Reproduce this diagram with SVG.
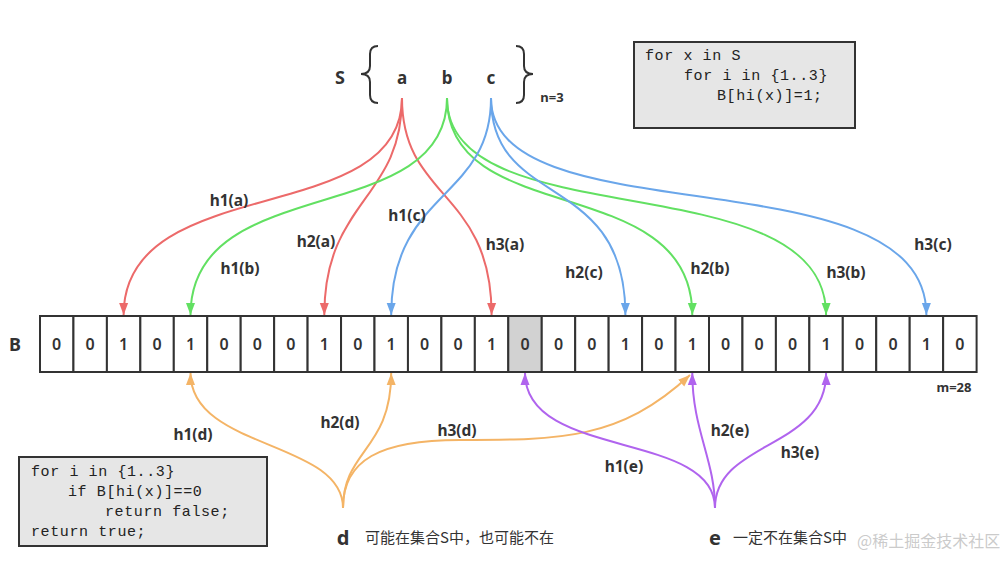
<svg xmlns="http://www.w3.org/2000/svg" width="1005" height="568" viewBox="0 0 1005 568">
<defs>
<style>
.lbl{font-family:"Noto Sans","Liberation Sans",sans-serif;font-weight:bold;font-size:15.5px;fill:#333;text-anchor:middle}
.big{font-family:"Noto Sans","Liberation Sans",sans-serif;font-weight:bold;font-size:18px;fill:#333;text-anchor:middle}
.code{font-family:"Liberation Mono",monospace;font-size:15px;letter-spacing:0.6px;fill:#222}
.box{fill:#e6e6e6;stroke:#333;stroke-width:2}
.cell{fill:#fff;stroke:#333;stroke-width:2}
.num{font-family:"Noto Sans","Liberation Sans",sans-serif;font-weight:600;font-size:16px;fill:#333;text-anchor:middle}
.cn{font-family:"Noto Sans CJK SC","Noto Sans",sans-serif;font-size:15px;fill:#333}
.c{fill:none;stroke-width:2}
.r{stroke:#ec6a6a}.g{stroke:#62e062}.b{stroke:#6aa6ea}.o{stroke:#f4b466}.p{stroke:#b064ee}
</style>
<marker id="mr" markerUnits="userSpaceOnUse" markerWidth="12" markerHeight="16" refX="16" refY="6" orient="auto" viewBox="0 0 16 12"><path d="M0,0 L16,6 L0,12 Z" fill="#ec6a6a"/></marker>
<marker id="mg" markerUnits="userSpaceOnUse" markerWidth="12" markerHeight="16" refX="16" refY="6" orient="auto" viewBox="0 0 16 12"><path d="M0,0 L16,6 L0,12 Z" fill="#62e062"/></marker>
<marker id="mb" markerUnits="userSpaceOnUse" markerWidth="12" markerHeight="16" refX="16" refY="6" orient="auto" viewBox="0 0 16 12"><path d="M0,0 L16,6 L0,12 Z" fill="#6aa6ea"/></marker>
<marker id="mo" markerUnits="userSpaceOnUse" markerWidth="12" markerHeight="16" refX="16" refY="6" orient="auto" viewBox="0 0 16 12"><path d="M0,0 L16,6 L0,12 Z" fill="#f4b466"/></marker>
<marker id="mp" markerUnits="userSpaceOnUse" markerWidth="12" markerHeight="16" refX="16" refY="6" orient="auto" viewBox="0 0 16 12"><path d="M0,0 L16,6 L0,12 Z" fill="#b064ee"/></marker>
</defs>
<rect width="1005" height="568" fill="#fff"/>

<g id="set-S">
<text class="big" x="340" y="84">S</text>
<path d="M378,46 Q370,46 370,54 L370,66 Q370,74 361,74 Q370,74 370,82 L370,95 Q370,103 378,103" fill="none" stroke="#333" stroke-width="2"/>
<path d="M516,46 Q524,46 524,54 L524,66 Q524,74 533,74 Q524,74 524,82 L524,95 Q524,103 516,103" fill="none" stroke="#333" stroke-width="2"/>
<text class="lbl" x="552" y="102" style="font-size:13px">n=3</text>
</g>
<g id="node-a"><text class="big" x="402" y="84" style="font-size:17px">a</text></g>
<g id="node-b"><text class="big" x="447" y="84" style="font-size:17px">b</text></g>
<g id="node-c"><text class="big" x="491" y="84" style="font-size:17px">c</text></g>

<g id="code-insert">
<rect class="box" x="634" y="42" width="221" height="86"/>
<text class="code" x="645" y="60">for x in S</text>
<text class="code" x="684" y="80">for i in {1..3}</text>
<text class="code" x="717" y="100">B[hi(x)]=1;</text>
</g>

<g id="code-query">
<rect class="box" x="19" y="457" width="248" height="89"/>
<text class="code" x="31" y="476">for i in {1..3}</text>
<text class="code" x="68" y="496">if B[hi(x)]==0</text>
<text class="code" x="105" y="516">return false;</text>
<text class="code" x="31" y="536">return true;</text>
</g>

<g id="array-B">
<text class="big" x="15" y="351">B</text>
<g id="cell-0"><rect class="cell" x="40" y="316" width="33.45" height="56"/><text class="num" x="56.7" y="350">0</text></g>
<g id="cell-1"><rect class="cell" x="73.45" y="316" width="33.45" height="56"/><text class="num" x="90.2" y="350">0</text></g>
<g id="cell-2"><rect class="cell" x="106.9" y="316" width="33.45" height="56"/><text class="num" x="123.6" y="350">1</text></g>
<g id="cell-3"><rect class="cell" x="140.35" y="316" width="33.45" height="56"/><text class="num" x="157.1" y="350">0</text></g>
<g id="cell-4"><rect class="cell" x="173.8" y="316" width="33.45" height="56"/><text class="num" x="190.5" y="350">1</text></g>
<g id="cell-5"><rect class="cell" x="207.25" y="316" width="33.45" height="56"/><text class="num" x="224" y="350">0</text></g>
<g id="cell-6"><rect class="cell" x="240.7" y="316" width="33.45" height="56"/><text class="num" x="257.4" y="350">0</text></g>
<g id="cell-7"><rect class="cell" x="274.15" y="316" width="33.45" height="56"/><text class="num" x="290.9" y="350">0</text></g>
<g id="cell-8"><rect class="cell" x="307.6" y="316" width="33.45" height="56"/><text class="num" x="324.3" y="350">1</text></g>
<g id="cell-9"><rect class="cell" x="341.05" y="316" width="33.45" height="56"/><text class="num" x="357.8" y="350">0</text></g>
<g id="cell-10"><rect class="cell" x="374.5" y="316" width="33.45" height="56"/><text class="num" x="391.2" y="350">1</text></g>
<g id="cell-11"><rect class="cell" x="407.95" y="316" width="33.45" height="56"/><text class="num" x="424.7" y="350">0</text></g>
<g id="cell-12"><rect class="cell" x="441.4" y="316" width="33.45" height="56"/><text class="num" x="458.1" y="350">0</text></g>
<g id="cell-13"><rect class="cell" x="474.85" y="316" width="33.45" height="56"/><text class="num" x="491.6" y="350">1</text></g>
<g id="cell-14"><rect class="cell" x="508.3" y="316" width="33.45" height="56" style="fill:#d2d2d2"/><text class="num" x="525" y="350">0</text></g>
<g id="cell-15"><rect class="cell" x="541.75" y="316" width="33.45" height="56"/><text class="num" x="558.5" y="350">0</text></g>
<g id="cell-16"><rect class="cell" x="575.2" y="316" width="33.45" height="56"/><text class="num" x="591.9" y="350">0</text></g>
<g id="cell-17"><rect class="cell" x="608.65" y="316" width="33.45" height="56"/><text class="num" x="625.4" y="350">1</text></g>
<g id="cell-18"><rect class="cell" x="642.1" y="316" width="33.45" height="56"/><text class="num" x="658.8" y="350">0</text></g>
<g id="cell-19"><rect class="cell" x="675.55" y="316" width="33.45" height="56"/><text class="num" x="692.3" y="350">1</text></g>
<g id="cell-20"><rect class="cell" x="709" y="316" width="33.45" height="56"/><text class="num" x="725.7" y="350">0</text></g>
<g id="cell-21"><rect class="cell" x="742.45" y="316" width="33.45" height="56"/><text class="num" x="759.2" y="350">0</text></g>
<g id="cell-22"><rect class="cell" x="775.9" y="316" width="33.45" height="56"/><text class="num" x="792.6" y="350">0</text></g>
<g id="cell-23"><rect class="cell" x="809.35" y="316" width="33.45" height="56"/><text class="num" x="826.1" y="350">1</text></g>
<g id="cell-24"><rect class="cell" x="842.8" y="316" width="33.45" height="56"/><text class="num" x="859.5" y="350">0</text></g>
<g id="cell-25"><rect class="cell" x="876.25" y="316" width="33.45" height="56"/><text class="num" x="893" y="350">0</text></g>
<g id="cell-26"><rect class="cell" x="909.7" y="316" width="33.45" height="56"/><text class="num" x="926.4" y="350">1</text></g>
<g id="cell-27"><rect class="cell" x="943.15" y="316" width="33.45" height="56"/><text class="num" x="959.9" y="350">0</text></g>
<text class="lbl" x="954" y="392" style="font-size:13px">m=28</text>
</g>

<g id="node-d">
<text class="big" x="343" y="545" style="font-size:20px">d</text>
<text class="cn" x="365" y="543">可能在集合S中，也可能不在</text>
</g>
<g id="node-e">
<text class="big" x="715" y="545" style="font-size:20px">e</text>
<text class="cn" x="733" y="543">一定不在集合S中</text>
</g>

<g id="connectors">
<path class="c r" d="M402,98 C402,230 123.6,170 123.6,315" marker-end="url(#mr)"/>
<path class="c r" d="M402,98 C402,200 324.3,200 324.3,315" marker-end="url(#mr)"/>
<path class="c r" d="M402,98 C402,200 491.6,190 491.6,315" marker-end="url(#mr)"/>
<path class="c g" d="M447,98 C447,230 190.5,170 190.5,315" marker-end="url(#mg)"/>
<path class="c g" d="M447,98 C447,230 692.3,170 692.3,315" marker-end="url(#mg)"/>
<path class="c g" d="M447,98 C447,240 826.1,160 826.1,315" marker-end="url(#mg)"/>
<path class="c b" d="M491,98 C491,200 391.2,190 391.2,315" marker-end="url(#mb)"/>
<path class="c b" d="M491,98 C491,210 625.4,170 625.4,315" marker-end="url(#mb)"/>
<path class="c b" d="M491,98 C491,240 926.4,150 926.4,315" marker-end="url(#mb)"/>

<path class="c o" d="M343,508 C343,440 190.5,450 190.5,373" marker-end="url(#mo)"/>
<path class="c o" d="M343,508 C343,450 391.2,450 391.2,373" marker-end="url(#mo)"/>
<path class="c o" d="M343,508 C343,460 380,440 460,440 C560,440 620,440 690,375" marker-end="url(#mo)"/>
<path class="c p" d="M715,508 C715,430 525,460 525,373" marker-end="url(#mp)"/>
<path class="c p" d="M715,508 C715,460 692.3,430 692.3,373" marker-end="url(#mp)"/>
<path class="c p" d="M715,508 C715,440 826.1,450 826.1,373" marker-end="url(#mp)"/>

<text class="lbl" x="229" y="206">h1(a)</text>
<text class="lbl" x="240" y="274">h1(b)</text>
<text class="lbl" x="316" y="247">h2(a)</text>
<text class="lbl" x="407" y="221">h1(c)</text>
<text class="lbl" x="505" y="250">h3(a)</text>
<text class="lbl" x="584" y="278">h2(c)</text>
<text class="lbl" x="710" y="274">h2(b)</text>
<text class="lbl" x="846" y="278">h3(b)</text>
<text class="lbl" x="933" y="250">h3(c)</text>
<text class="lbl" x="193" y="440">h1(d)</text>
<text class="lbl" x="340" y="428">h2(d)</text>
<text class="lbl" x="457" y="436">h3(d)</text>
<text class="lbl" x="624" y="472">h1(e)</text>
<text class="lbl" x="730" y="436">h2(e)</text>
<text class="lbl" x="800" y="458">h3(e)</text>
</g>

<text x="857" y="547" style="font-family:'Noto Sans CJK SC','Noto Sans',sans-serif;font-size:16px;fill:#bdbdbd;fill-opacity:0.8">@稀土掘金技术社区</text>
</svg>
